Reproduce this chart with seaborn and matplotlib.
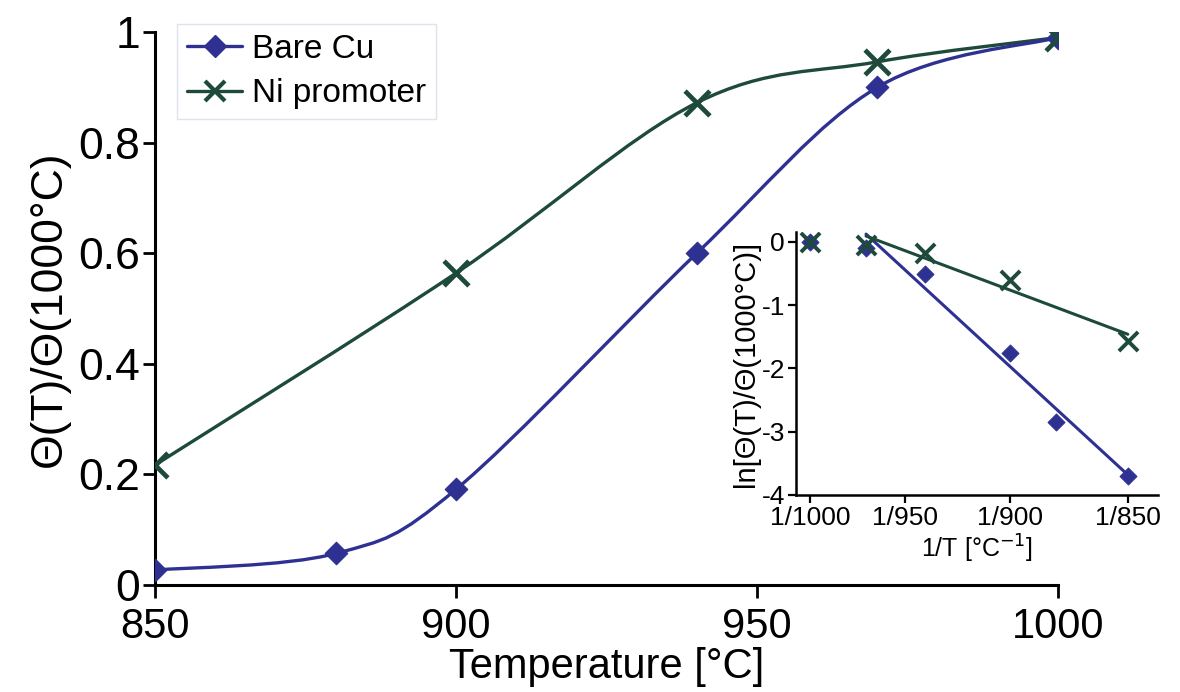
import numpy as np
import matplotlib
matplotlib.use("Agg")
import matplotlib.pyplot as plt
from matplotlib.path import Path
from matplotlib.patches import PathPatch
from matplotlib.lines import Line2D
import seaborn as sns
import pandas as pd

# main panel: normalized coverage vs temperature
temp_cu = [850, 880, 900, 940, 970, 1000]
theta_cu = [0.027, 0.057, 0.173, 0.60, 0.90, 0.99]
temp_ni = [850, 900, 940, 970, 1000]
theta_ni = [0.217, 0.564, 0.872, 0.946, 0.99]

# inset: ln of normalized coverage vs 1/T
inv_temp_cu = [1000, 970, 940, 900, 880, 850]
ln_cu = [0.0, -0.10, -0.50, -1.75, -2.85, -3.70]
inv_temp_ni = [1000, 970, 940, 900, 850]
ln_ni = [0.0, -0.05, -0.17, -0.60, -1.57]

inset_ticks = [1000, 950, 900, 850]
inset_ticklabels = ["1/1000", "1/950", "1/900", "1/850"]

blue = "#2E3192"
green = "#1D4A3A"

sns.set_theme(style="white")
plt.rcParams["font.family"] = ["Liberation Sans", "DejaVu Sans"]
plt.rcParams["text.color"] = "black"
plt.rcParams["axes.labelcolor"] = "black"
plt.rcParams["xtick.color"] = "black"
plt.rcParams["ytick.color"] = "black"


def smooth_path(xs, ys):
    # excel-like smoothed line as cubic bezier segments through the points
    pts = np.column_stack([xs, ys]).astype(float)
    n = len(pts)
    verts = [pts[0]]
    codes = [Path.MOVETO]
    for i in range(n - 1):
        p0 = pts[i - 1] if i > 0 else pts[i]
        p1 = pts[i]
        p2 = pts[i + 1]
        p3 = pts[i + 2] if i + 2 < n else pts[i + 1]
        c1 = p1 + (p2 - p0) / 6.0
        c2 = p2 - (p3 - p1) / 6.0
        verts += [c1, c2, p2]
        codes += [Path.CURVE4] * 3
    return Path(verts, codes)


fig = plt.figure(figsize=(11.8, 6.92), dpi=100)
ax = fig.add_axes([0.1314, 0.1546, 0.7652, 0.7992])

for xs, ys, c in [(temp_ni, theta_ni, green), (temp_cu, theta_cu, blue)]:
    ax.add_patch(PathPatch(smooth_path(xs, ys), facecolor="none", edgecolor=c, lw=2.4, zorder=2))

sns.scatterplot(x=temp_cu, y=theta_cu, ax=ax, marker="D", s=130, color=blue, edgecolor=blue, zorder=3)
sns.scatterplot(x=temp_ni, y=theta_ni, ax=ax, marker="x", s=320, color=green, linewidth=3.4, zorder=3)

ax.set_xlim(850, 1000)
ax.set_ylim(0, 1)
ax.set_xticks([850, 900, 950, 1000])
ax.set_yticks([0, 0.2, 0.4, 0.6, 0.8, 1.0])
ax.set_yticklabels(["0", "0.2", "0.4", "0.6", "0.8", "1"])
for s in ["top", "right"]:
    ax.spines[s].set_visible(False)
for s in ["left", "bottom"]:
    ax.spines[s].set_color("black")
    ax.spines[s].set_linewidth(2.2)
ax.tick_params(axis="x", direction="out", length=9, width=2, labelsize=30, pad=7, bottom=True)
ax.tick_params(axis="y", direction="out", length=9, width=2, labelsize=32, pad=2, left=True)
ax.set_xlabel("Temperature [°C]", fontsize=30, labelpad=0)
ax.set_ylabel("Θ(T)/Θ(1000°C)", fontsize=32, labelpad=6)

handles = [
    Line2D([], [], color=blue, lw=2.4, marker="D", markersize=11, label="Bare Cu"),
    Line2D([], [], color=green, lw=2.4, marker="x", markersize=15, mew=3, label="Ni promoter"),
]
leg = ax.legend(handles=handles, loc="upper left", bbox_to_anchor=(177 / 1180, 1 - 24 / 692),
                bbox_transform=fig.transFigure, fontsize=24, frameon=True, fancybox=False,
                handlelength=1.65, handletextpad=0.3, borderpad=0.3, labelspacing=0.4,
                borderaxespad=0)
leg.get_frame().set_edgecolor("#d8dde8")
leg.get_frame().set_linewidth(1.0)

# inset
ax2 = fig.add_axes([0.6746, 0.2847, 0.3068, 0.3795])
ins_cu = pd.DataFrame({"x": [1.0 / t for t in inv_temp_cu], "y": ln_cu})
ins_ni = pd.DataFrame({"x": [1.0 / t for t in inv_temp_ni], "y": ln_ni})

sns.regplot(data=ins_cu[ins_cu["x"] > 0.001], x="x", y="y", ax=ax2, ci=None, scatter=False,
            truncate=True, line_kws={"color": blue, "lw": 2.2})
sns.regplot(data=ins_ni[ins_ni["x"] > 0.001], x="x", y="y", ax=ax2, ci=None, scatter=False,
            truncate=True, line_kws={"color": green, "lw": 2.2})
sns.scatterplot(data=ins_cu, x="x", y="y", ax=ax2, marker="D", s=75, color=blue, edgecolor=blue, zorder=3)
sns.scatterplot(data=ins_ni, x="x", y="y", ax=ax2, marker="x", s=190, color=green, linewidth=2.8, zorder=3)

ax2.set_xlim(0.000992, 0.0011933)
ax2.set_ylim(-4, 0.15)
ax2.set_xticks([1.0 / t for t in inset_ticks])
ax2.set_xticklabels(inset_ticklabels)
ax2.set_yticks([0, -1, -2, -3, -4])
ax2.set_yticklabels(["0", "-1", "-2", "-3", "-4"])
ax2.patch.set_alpha(0)
for s in ["top", "right"]:
    ax2.spines[s].set_visible(False)
for s in ["left", "bottom"]:
    ax2.spines[s].set_color("black")
    ax2.spines[s].set_linewidth(1.8)
ax2.tick_params(axis="both", direction="out", length=6, width=1.6,
                labelsize=19, pad=2, left=True, bottom=True)
ax2.set_xlabel("1/T [°C$^{-1}$]", fontsize=18, labelpad=2)
ax2.set_ylabel("ln[Θ(T)/Θ(1000°C)]", fontsize=21, labelpad=1)

fig.savefig("out.png", dpi=100)
